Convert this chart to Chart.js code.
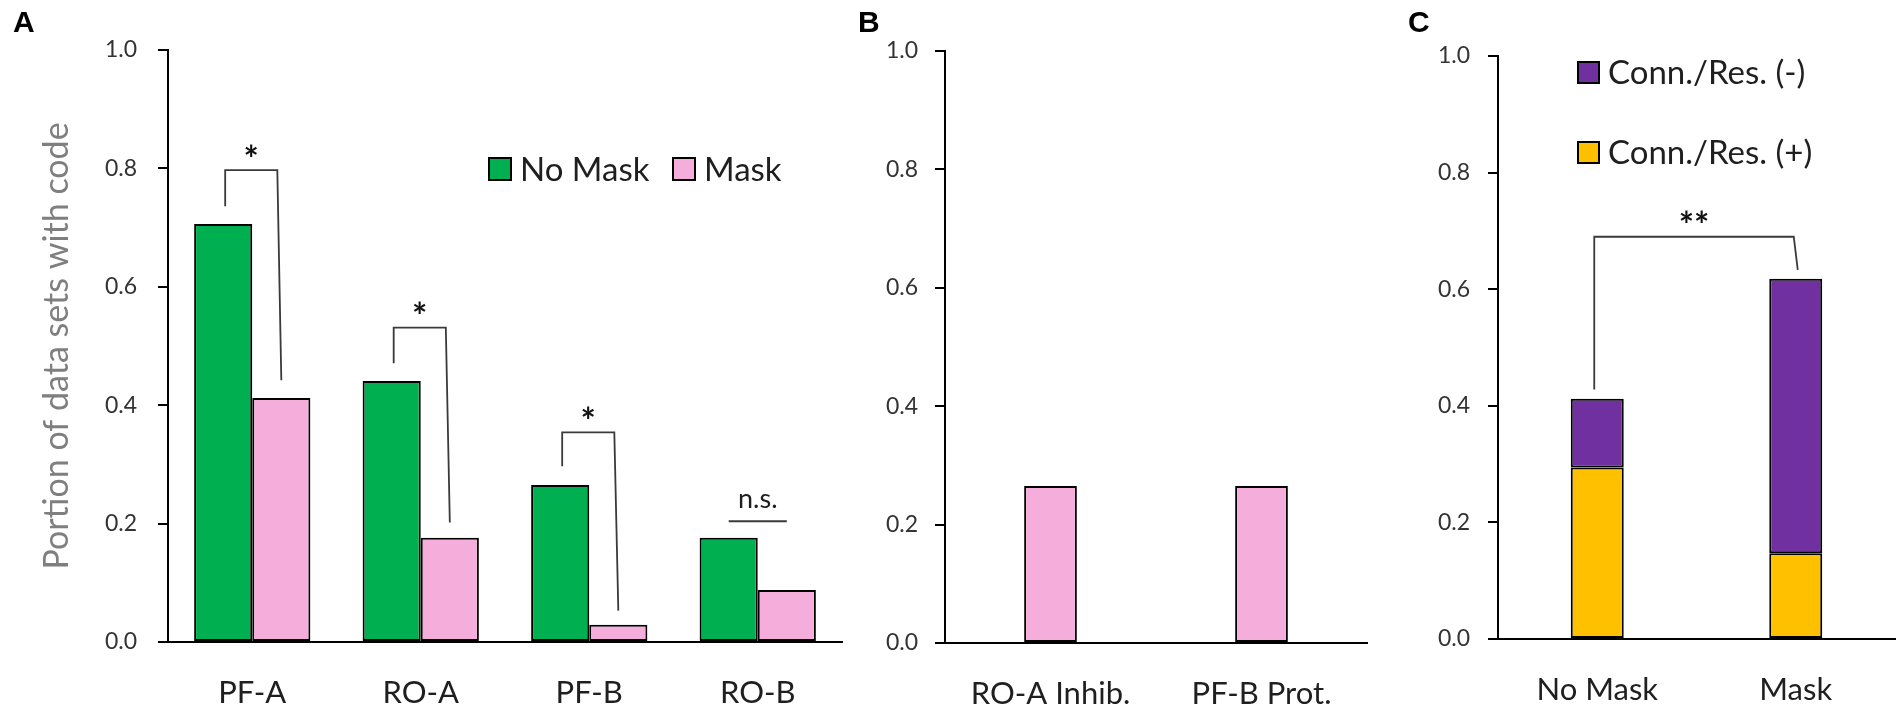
<!DOCTYPE html>
<html>
<head>
<meta charset="utf-8">
<script src="https://cdn.jsdelivr.net/npm/chart.js@4.4.1/dist/chart.umd.min.js"></script>
<style>
  body { margin: 0; background: #fff; }
  .panel { position: absolute; top: 0; height: 708px; }
</style>
</head>
<body>
<div class="panel" style="left:0;width:850px"><canvas id="chartA"></canvas></div>
<div class="panel" style="left:850px;width:525px"><canvas id="chartB"></canvas></div>
<div class="panel" style="left:1380px;width:524px"><canvas id="chartC"></canvas></div>
<script>
// panel A
const groupsA = ['PF-A', 'RO-A', 'PF-B', 'RO-B'];
const noMaskA = [0.706, 0.441, 0.265, 0.176];
const maskA = [0.412, 0.176, 0.029, 0.088];
// panel B
const groupsB = ['RO-A Inhib.', 'PF-B Prot.'];
const maskB = [0.265, 0.265];
// panel C (stacked)
const groupsC = ['No Mask', 'Mask'];
const connPos = [0.294, 0.147];
const connNeg = [0.118, 0.471];

const yTicks = [0, 0.2, 0.4, 0.6, 0.8, 1.0];

// significance brackets: [group, left leg end, bracket top, right leg end, text]
const sigA = [
  [0, 0.736, 0.797, 0.442, '*'],
  [1, 0.471, 0.531, 0.202, '*'],
  [2, 0.297, 0.354, 0.053, '*']
];
const nsA = [3, 0.204, 'n.s.'];
const sigC = [0.428, 0.690, 0.633, '**'];

const FONT = 'Lato';
const GREEN = '#00B050', PINK = '#F5AEDC', PURPLE = '#7030A0', GOLD = '#FFC000';

Chart.defaults.animation = false;
Chart.defaults.plugins.tooltip.enabled = false;
Chart.defaults.plugins.legend.display = false;

function yScale(width, pad, title) {
  return {
    min: 0, max: 1,
    afterBuildTicks: s => { s.ticks = yTicks.map(v => ({ value: v })); },
    afterFit: s => { s.width = width; },
    ticks: { padding: pad, color: '#333', font: { family: FONT, size: 23 }, callback: v => v.toFixed(1) },
    grid: { drawOnChartArea: false, drawTicks: true, tickLength: 10, color: '#000', lineWidth: 2 },
    border: { color: '#000', width: 2 },
    title: title ? {
      display: true, text: title, color: '#7f7f7f',
      font: { family: FONT, size: 34 }, padding: { top: 37, bottom: 0 }
    } : { display: false }
  };
}

function xScale(height, pad) {
  return {
    afterFit: s => { s.height = height; },
    ticks: { padding: pad, color: '#1f1f1f', font: { family: FONT, size: 31 }, maxRotation: 0, autoSkip: false },
    grid: { display: false, drawTicks: false },
    border: { color: '#000', width: 2 }
  };
}

function centerText(ctx, text, x, y) {
  const m = ctx.measureText(text);
  ctx.fillText(text, x, y + (m.actualBoundingBoxAscent - m.actualBoundingBoxDescent) / 2);
}

// letters, legends and brackets
const marks = {
  id: 'marks',
  afterDatasetsDraw(chart, args, o) {
    const ctx = chart.ctx;
    const y = chart.scales.y;
    ctx.save();

    ctx.fillStyle = '#000';
    ctx.font = 'bold 30px "Liberation Sans"';
    ctx.textAlign = 'left';
    ctx.textBaseline = 'alphabetic';
    ctx.fillText(o.letter, o.letterX, 32);

    (o.legend || []).forEach(it => {
      const ds = chart.data.datasets[it.ds];
      ctx.fillStyle = ds.backgroundColor;
      ctx.fillRect(it.x, it.y, it.size, it.size);
      ctx.strokeStyle = '#000';
      ctx.lineWidth = 2;
      ctx.strokeRect(it.x, it.y, it.size, it.size);
      ctx.fillStyle = '#1f1f1f';
      ctx.font = '33px ' + FONT;
      ctx.textBaseline = 'middle';
      ctx.fillText(ds.label, it.x + it.size + 9, it.y + it.size / 2 + 1);
    });

    ctx.strokeStyle = '#3a3a3a';
    ctx.lineWidth = 1.8;
    ctx.fillStyle = '#111';
    ctx.textAlign = 'center';
    ctx.textBaseline = 'alphabetic';
    (o.brackets || []).forEach(b => {
      const yl = y.getPixelForValue(b.low1), yt = y.getPixelForValue(b.top), yr = y.getPixelForValue(b.low2);
      ctx.beginPath();
      ctx.moveTo(b.x1, yl);
      ctx.lineTo(b.x1, yt);
      ctx.lineTo(b.x2 - 4, yt);
      ctx.lineTo(b.x2, yr);
      ctx.stroke();
      ctx.font = 'bold 36px ' + FONT;
      centerText(ctx, b.text, (b.x1 + b.x2 - 4) / 2, yt - 20);
    });

    if (o.ns) {
      const yy = y.getPixelForValue(o.ns.v);
      ctx.lineWidth = 2;
      ctx.beginPath();
      ctx.moveTo(o.ns.x1, yy);
      ctx.lineTo(o.ns.x2, yy);
      ctx.stroke();
      ctx.font = '27px ' + FONT;
      ctx.fillStyle = '#1f1f1f';
      centerText(ctx, o.ns.text, (o.ns.x1 + o.ns.x2) / 2, yy - 20);
    }
    ctx.restore();
  }
};

function barX(chart, ds, i) {
  return chart.getDatasetMeta(ds).data[i].x;
}

const barStyle = { borderColor: '#000', borderWidth: 2, borderSkipped: false, barPercentage: 1 };

// ---- A ----
new Chart(document.getElementById('chartA'), {
  type: 'bar',
  data: {
    labels: groupsA,
    datasets: [
      { label: 'No Mask', data: noMaskA, backgroundColor: GREEN },
      { label: 'Mask', data: maskA, backgroundColor: PINK }
    ]
  },
  options: {
    responsive: true, maintainAspectRatio: false,
    layout: { padding: { left: 0, top: 50, right: 8, bottom: 0 } },
    datasets: { bar: Object.assign({ categoryPercentage: 0.69 }, barStyle) },
    scales: { x: xScale(66, 32), y: yScale(168, 21, 'Portion of data sets with code') },
    plugins: {
      marks: {
        letter: 'A', letterX: 13,
        legend: [{ ds: 0, x: 489, y: 158, size: 22 }, { ds: 1, x: 673, y: 158, size: 22 }],
        brackets: [], ns: null
      }
    }
  },
  plugins: [marks, {
    id: 'sigA',
    beforeDraw(chart) {
      const o = chart.options.plugins.marks;
      o.brackets = sigA.map(s => ({
        x1: barX(chart, 0, s[0]) + 2, x2: barX(chart, 1, s[0]),
        low1: s[1], top: s[2], low2: s[3], text: s[4]
      }));
      o.ns = { x1: barX(chart, 0, nsA[0]), x2: barX(chart, 1, nsA[0]), v: nsA[1], text: nsA[2] };
    }
  }]
});

// ---- B ----
new Chart(document.getElementById('chartB'), {
  type: 'bar',
  data: {
    labels: groupsB,
    datasets: [{ label: 'Mask', data: maskB, backgroundColor: PINK }]
  },
  options: {
    responsive: true, maintainAspectRatio: false,
    layout: { padding: { left: 0, top: 51, right: 8, bottom: 0 } },
    datasets: { bar: Object.assign({ categoryPercentage: 0.25 }, barStyle) },
    scales: { x: xScale(65, 32), y: yScale(95, 17) },
    plugins: { marks: { letter: 'B', letterX: 8 } }
  },
  plugins: [marks]
});

// ---- C ----
new Chart(document.getElementById('chartC'), {
  type: 'bar',
  data: {
    labels: groupsC,
    datasets: [
      { label: 'Conn./Res. (+)', data: connPos, backgroundColor: GOLD },
      { label: 'Conn./Res. (-)', data: connNeg, backgroundColor: PURPLE }
    ]
  },
  options: {
    responsive: true, maintainAspectRatio: false,
    layout: { padding: { left: 0, top: 56, right: 9, bottom: 0 } },
    datasets: { bar: Object.assign({ categoryPercentage: 0.267 }, barStyle) },
    scales: {
      x: Object.assign(xScale(69, 32), { stacked: true }),
      y: Object.assign(yScale(118, 18), { stacked: true })
    },
    plugins: {
      marks: {
        letter: 'C', letterX: 28,
        legend: [{ ds: 1, x: 198, y: 62, size: 21 }, { ds: 0, x: 198, y: 142, size: 21 }],
        brackets: []
      }
    }
  },
  plugins: [marks, {
    id: 'sigC',
    beforeDraw(chart) {
      chart.options.plugins.marks.brackets = [{
        x1: barX(chart, 1, 0) - 3, x2: barX(chart, 1, 1) + 2,
        low1: sigC[0], top: sigC[1], low2: sigC[2], text: sigC[3]
      }];
    }
  }]
});
</script>
</body>
</html>
